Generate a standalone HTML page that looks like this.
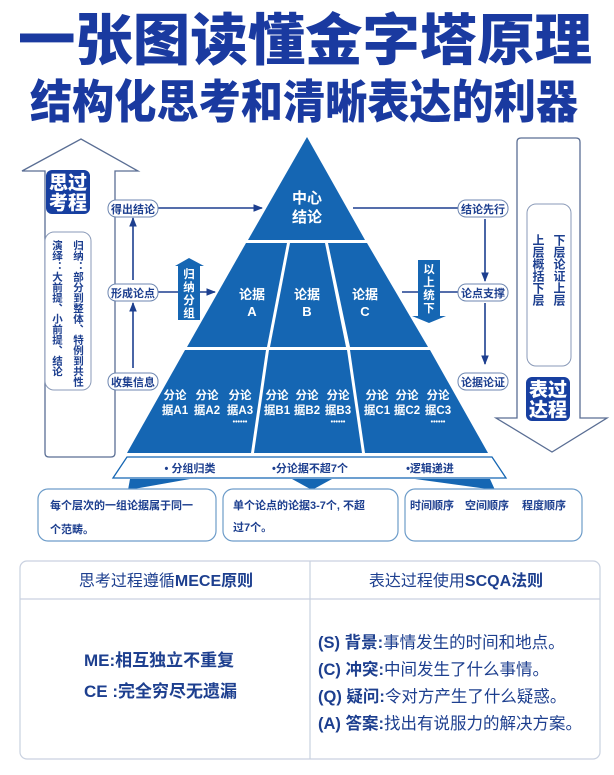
<!DOCTYPE html>
<html><head><meta charset="utf-8"><style>
html,body{margin:0;padding:0;background:#fff;}
svg{display:block;}
text{font-family:"Liberation Sans","Noto Sans CJK SC",sans-serif;}
</style></head><body>
<svg width="614" height="775" viewBox="0 0 614 775" xmlns="http://www.w3.org/2000/svg">
<defs>
<marker id="ah" viewBox="0 0 10 10" refX="9" refY="5" markerWidth="6" markerHeight="6" orient="auto"><path d="M0,1 L10,5 L0,9 z" fill="#1d3f8f"/></marker>
</defs>
<!-- titles -->
<text x="305" y="60" font-size="56" font-weight="900" fill="#1a3aa0" text-anchor="middle" textLength="574" lengthAdjust="spacingAndGlyphs">一张图读懂金字塔原理</text>
<text x="304" y="118" font-size="46" font-weight="900" fill="#1a3aa0" text-anchor="middle" textLength="548" lengthAdjust="spacingAndGlyphs">结构化思考和清晰表达的利器</text>

<!-- left up arrow -->
<path d="M45,453 L45,171 L22,171 L81,139 L138,171 L115,171 L115,453 Q115,457 111,457 L49,457 Q45,457 45,453 Z" fill="#fff" stroke="#5a6e94" stroke-width="1.3"/>
<rect x="46" y="170" width="44" height="44" rx="6" fill="#173fa0"/>
<text x="68" y="189" font-size="19" font-weight="900" fill="#fff" text-anchor="middle">思过</text>
<text x="68" y="209" font-size="19" font-weight="900" fill="#fff" text-anchor="middle">考程</text>
<rect x="45" y="232" width="46" height="158" rx="9" fill="#fff" stroke="#8a9ab8" stroke-width="1"/>
<text font-size="10.5" font-weight="700" fill="#1d3f8f" writing-mode="tb" x="78" y="240">归纳：部分到整体、特例到共性</text>
<text font-size="10.5" font-weight="700" fill="#1d3f8f" writing-mode="tb" x="57" y="240">演绎：大前提、小前提、结论</text>

<!-- right down arrow -->
<path d="M517,418 L517,142 Q517,138 521,138 L576,138 Q580,138 580,142 L580,418 L607,418 L552,452 L496,418 Z" fill="#fff" stroke="#5a6e94" stroke-width="1.3"/>
<rect x="527" y="204" width="44" height="162" rx="9" fill="#fff" stroke="#8a9ab8" stroke-width="1"/>
<text font-size="12" font-weight="700" fill="#1d3f8f" writing-mode="tb" x="559" y="234">下层论证上层</text>
<text font-size="12" font-weight="700" fill="#1d3f8f" writing-mode="tb" x="538" y="234">上层概括下层</text>
<rect x="526" y="377" width="44" height="44" rx="6" fill="#173fa0"/>
<text x="548" y="396" font-size="19" font-weight="900" fill="#fff" text-anchor="middle">表过</text>
<text x="548" y="416" font-size="19" font-weight="900" fill="#fff" text-anchor="middle">达程</text>

<!-- pyramid -->
<g fill="#1566b3">
<polygon points="307,137 365,240 248,240"/>
<polygon points="246,243 287,243 267,347 187,347"/>
<polygon points="290,243 325,243 346,347 270,347"/>
<polygon points="328,243 367,243 428,347 350,347"/>
<polygon points="185,350 266,350 251,453 127,453"/>
<polygon points="269,350 347,350 362,453 254,453"/>
<polygon points="350,350 430,350 488,453 365,453"/>
</g>
<g fill="#fff" font-weight="700" text-anchor="middle">
<text x="307" y="203" font-size="15">中心</text>
<text x="307" y="222" font-size="15">结论</text>
<text x="252" y="299" font-size="13">论据</text><text x="252" y="316" font-size="13">A</text>
<text x="307" y="299" font-size="13">论据</text><text x="307" y="316" font-size="13">B</text>
<text x="365" y="299" font-size="13">论据</text><text x="365" y="316" font-size="13">C</text>
<g font-size="11.5">
<text x="175" y="399">分论</text><text x="175" y="414">据A1</text>
<text x="207" y="399">分论</text><text x="207" y="414">据A2</text>
<text x="240" y="399">分论</text><text x="240" y="414">据A3</text>
<text x="277" y="399">分论</text><text x="277" y="414">据B1</text>
<text x="307" y="399">分论</text><text x="307" y="414">据B2</text>
<text x="338" y="399">分论</text><text x="338" y="414">据B3</text>
<text x="377" y="399">分论</text><text x="377" y="414">据C1</text>
<text x="407" y="399">分论</text><text x="407" y="414">据C2</text>
<text x="438" y="399">分论</text><text x="438" y="414">据C3</text>
</g>
<text x="240" y="424" font-size="7">••••••</text>
<text x="338" y="424" font-size="7">••••••</text>
<text x="438" y="424" font-size="7">••••••</text>
</g>

<!-- bottom trapezoid -->
<polygon points="127,457 492,457 506,478 113,478" fill="#fff" stroke="#1566b3" stroke-width="1.3"/>
<g font-size="11" font-weight="700" fill="#1d3f8f" text-anchor="middle">
<text x="190" y="472">• 分组归类</text>
<text x="310" y="472">•分论据不超7个</text>
<text x="430" y="472">•逻辑递进</text>
</g>
<polygon points="130,479 190,479 128,490" fill="#1566b3"/>
<polygon points="292,479 332,479 312,490" fill="#1566b3"/>
<polygon points="415,479 490,479 495,490" fill="#1566b3"/>

<!-- boxes -->
<g fill="#fff" stroke="#6d9cc9" stroke-width="1.2">
<rect x="38" y="489" width="178" height="52" rx="10"/>
<rect x="223" y="489" width="175" height="52" rx="10"/>
<rect x="405" y="489" width="177" height="52" rx="10"/>
</g>
<g font-size="11" font-weight="700" fill="#1d3f8f">
<text x="50" y="509">每个层次的一组论据属于同一</text>
<text x="50" y="533">个范畴。</text>
<text x="233" y="509">单个论点的论据3-7个, 不超</text>
<text x="233" y="531">过7个。</text>
<text x="410" y="509">时间顺序</text>
<text x="465" y="509">空间顺序</text>
<text x="522" y="509">程度顺序</text>
</g>

<!-- connectors -->
<g stroke="#1d3f8f" stroke-width="1.6" fill="none">
<line x1="157" y1="208" x2="262" y2="208" marker-end="url(#ah)"/>
<line x1="133" y1="280" x2="133" y2="218" marker-end="url(#ah)"/>
<line x1="133" y1="368" x2="133" y2="303" marker-end="url(#ah)"/>
<line x1="157" y1="292" x2="215" y2="292" marker-end="url(#ah)"/>
<line x1="353" y1="208" x2="458" y2="208"/>
<line x1="485" y1="219" x2="485" y2="281" marker-end="url(#ah)"/>
<line x1="485" y1="303" x2="485" y2="364" marker-end="url(#ah)"/>
<line x1="402" y1="292" x2="458" y2="292"/>
</g>
<g fill="#fff" stroke="#6d86b0" stroke-width="1">
<rect x="108" y="200" width="50" height="17" rx="8"/>
<rect x="108" y="284" width="50" height="17" rx="8"/>
<rect x="108" y="373" width="50" height="17" rx="8"/>
<rect x="458" y="200" width="50" height="17" rx="8"/>
<rect x="458" y="284" width="50" height="17" rx="8"/>
<rect x="458" y="373" width="50" height="17" rx="8"/>
</g>
<g font-size="11" font-weight="700" fill="#1d3f8f" text-anchor="middle">
<text x="133" y="213">得出结论</text>
<text x="133" y="297">形成论点</text>
<text x="133" y="386">收集信息</text>
<text x="483" y="213">结论先行</text>
<text x="483" y="297">论点支撑</text>
<text x="483" y="386">论据论证</text>
</g>
<!-- small vertical arrows -->
<polygon points="178,266 175,266 189,258 204,266 200,266 200,320 178,320" fill="#1566b3"/>
<g font-size="11.5" font-weight="700" fill="#fff" text-anchor="middle">
<text x="189" y="278">归</text><text x="189" y="291">纳</text><text x="189" y="304">分</text><text x="189" y="317">组</text>
</g>
<polygon points="418,260 440,260 440,316 446,316 429,323 412,316 418,316" fill="#1566b3"/>
<g font-size="11.5" font-weight="700" fill="#fff" text-anchor="middle">
<text x="429" y="273">以</text><text x="429" y="286">上</text><text x="429" y="299">统</text><text x="429" y="312">下</text>
</g>

<!-- table -->
<rect x="20" y="561" width="580" height="198" rx="7" fill="#fff" stroke="#c9d1e0" stroke-width="1.2"/>
<line x1="20" y1="599" x2="600" y2="599" stroke="#c9d1e0" stroke-width="1.2"/>
<line x1="310" y1="561" x2="310" y2="759" stroke="#c9d1e0" stroke-width="1.2"/>
<text x="166" y="586" font-size="16" fill="#1d3f8f" text-anchor="middle">思考过程遵循<tspan font-weight="700">MECE原则</tspan></text>
<text x="456" y="586" font-size="16" fill="#1d3f8f" text-anchor="middle">表达过程使用<tspan font-weight="700">SCQA法则</tspan></text>
<g font-size="17" font-weight="700" fill="#1d3f8f">
<text x="84" y="666">ME:相互独立不重复</text>
<text x="84" y="697">CE :完全穷尽无遗漏</text>
</g>
<g font-size="16.5" fill="#1d3f8f">
<text x="318" y="648"><tspan font-weight="700">(S) 背景:</tspan>事情发生的时间和地点。</text>
<text x="318" y="675"><tspan font-weight="700">(C) 冲突:</tspan>中间发生了什么事情。</text>
<text x="318" y="702"><tspan font-weight="700">(Q) 疑问:</tspan>令对方产生了什么疑惑。</text>
<text x="318" y="729"><tspan font-weight="700">(A) 答案:</tspan>找出有说服力的解决方案。</text>
</g>
</svg>
</body></html>
